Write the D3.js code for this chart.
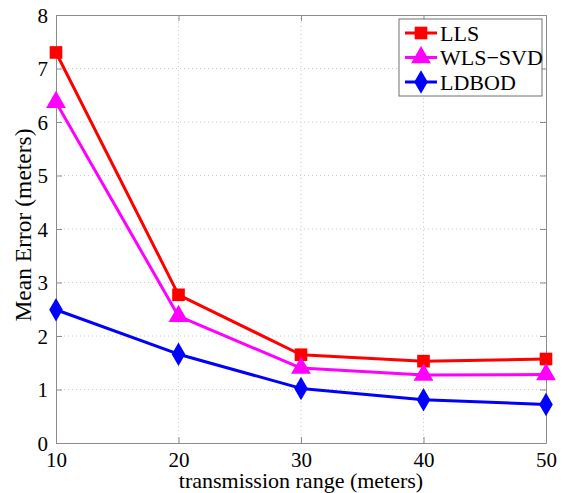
<!DOCTYPE html>
<html>
<head>
<meta charset="utf-8">
<script src="https://cdn.jsdelivr.net/npm/d3@7"></script>
<style>
  body { margin: 0; background: #fff; }
  svg { display: block; font-family: "Liberation Serif", "Times New Roman", serif; }
</style>
</head>
<body>
<div id="container"></div>
<script>
var width = 564;
var height = 493;
var margin = {top: 15, right: 18, bottom: 50, left: 56};

var ranges = [10, 20, 30, 40, 50];
var llsValues = [7.30, 2.77, 1.65, 1.53, 1.57];
var wlsValues = [6.37, 2.37, 1.40, 1.27, 1.28];
var ldbodValues = [2.49, 1.66, 1.02, 0.81, 0.72];
var seriesNames = ["LLS", "WLS\u2212SVD", "LDBOD"];
var xTicks = [10, 20, 30, 40, 50];
var yTicks = [0, 1, 2, 3, 4, 5, 6, 7, 8];

var series = [
  {name: seriesNames[0], values: llsValues, color: "#ff0000", symbol: d3.symbolSquare, size: 160},
  {name: seriesNames[1], values: wlsValues, color: "#ff00ff", symbol: d3.symbolTriangle, size: 170},
  {name: seriesNames[2], values: ldbodValues, color: "#0000ff", symbol: d3.symbolDiamond, size: 160}
];

const SVG = d3.select("#container")
              .append("svg")
              .attr("width", width)
              .attr("height", height);

var x = d3.scaleLinear().domain([10, 50]).range([margin.left, width - margin.right]);
var y = d3.scaleLinear().domain([0, 8]).range([height - margin.bottom, margin.top]);

// grid
SVG.append("g")
   .selectAll("line")
   .data(xTicks.slice(1, -1))
   .enter()
   .append("line")
   .attr("x1", d => x(d)).attr("x2", d => x(d))
   .attr("y1", y(0)).attr("y2", y(8))
   .attr("stroke", "#cccccc")
   .attr("stroke-dasharray", "1,3");

SVG.append("g")
   .selectAll("line")
   .data(yTicks.slice(1, -1))
   .enter()
   .append("line")
   .attr("x1", x(10)).attr("x2", x(50))
   .attr("y1", d => y(d)).attr("y2", d => y(d))
   .attr("stroke", "#cccccc")
   .attr("stroke-dasharray", "1,3");

// axes (MATLAB style: ticks inside, box around)
var axisColor = "#8c8c8c";

var bottomAxis = SVG.append("g")
   .attr("transform", `translate(0,${y(0)})`)
   .call(d3.axisBottom(x).tickValues(xTicks).tickSizeInner(-6).tickSizeOuter(0).tickPadding(8));
var topAxis = SVG.append("g")
   .attr("transform", `translate(0,${y(8)})`)
   .call(d3.axisTop(x).tickValues(xTicks).tickSizeInner(-6).tickSizeOuter(0).tickFormat(""));
var leftAxis = SVG.append("g")
   .attr("transform", `translate(${x(10)},0)`)
   .call(d3.axisLeft(y).tickValues(yTicks).tickSizeInner(-6).tickSizeOuter(0).tickPadding(8));
var rightAxis = SVG.append("g")
   .attr("transform", `translate(${x(50)},0)`)
   .call(d3.axisRight(y).tickValues(yTicks).tickSizeInner(-6).tickSizeOuter(0).tickFormat(""));

[bottomAxis, topAxis, leftAxis, rightAxis].forEach(function(a) {
  a.attr("font-family", "Liberation Serif").attr("font-size", 21);
  a.selectAll("path, line").attr("stroke", axisColor);
  a.selectAll("text").attr("fill", "#000");
});
bottomAxis.selectAll("text").attr("dy", "0.75em");
leftAxis.selectAll("text").attr("dy", "0.35em");

// lines and markers
var line = d3.line()
             .x((d, i) => x(ranges[i]))
             .y(d => y(d));

series.forEach(function(s) {
  SVG.append("path")
     .datum(s.values)
     .attr("fill", "none")
     .attr("stroke", s.color)
     .attr("stroke-width", 3)
     .attr("stroke-linejoin", "round")
     .attr("d", line);

  SVG.append("g")
     .selectAll("path")
     .data(s.values)
     .enter()
     .append("path")
     .attr("transform", (d, i) => `translate(${x(ranges[i])},${y(d)})`)
     .attr("d", d3.symbol().type(s.symbol).size(s.size))
     .attr("fill", s.color);
});

// axis titles
SVG.append("text")
   .attr("x", (x(10) + x(50)) / 2)
   .attr("y", 488)
   .attr("text-anchor", "middle")
   .style("font-size", "22px")
   .text("transmission range (meters)");

SVG.append("text")
   .attr("transform", "translate(31,225) rotate(-90)")
   .attr("text-anchor", "middle")
   .style("font-size", "23.5px")
   .text("Mean Error (meters)");

// legend
const LEGEND = SVG.append("g")
                  .attr("transform", "translate(399,19)");

LEGEND.append("rect")
      .attr("width", 143)
      .attr("height", 77)
      .attr("fill", "#fff")
      .attr("stroke", "#707070");

var item = LEGEND.selectAll("g")
                 .data(series)
                 .enter()
                 .append("g")
                 .attr("transform", (d, i) => `translate(0,${14 + i * 24.5})`);

item.append("line")
    .attr("x1", 6).attr("x2", 38)
    .attr("stroke", d => d.color)
    .attr("stroke-width", 3);

item.append("path")
    .attr("transform", "translate(22,0)")
    .attr("d", d => d3.symbol().type(d.symbol).size(d.size)())
    .attr("fill", d => d.color);

item.append("text")
    .attr("x", 41)
    .attr("dy", "0.35em")
    .style("font-size", "22px")
    .text(d => d.name);
</script>
</body>
</html>
